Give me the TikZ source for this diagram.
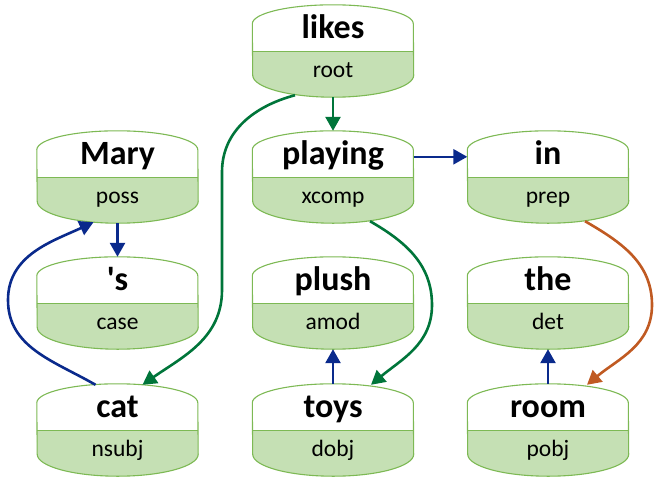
\documentclass[tikz,border=0pt]{standalone}
\usepackage{fontspec}
\newfontfamily\carl{Carlito}
\usetikzlibrary{arrows.meta,calc}
\definecolor{lgreen}{HTML}{C5E0B4}
\definecolor{bgreen}{HTML}{7DB954}
\definecolor{cblue}{HTML}{0A2A8C}
\definecolor{cgreen}{HTML}{00753A}
\definecolor{cbrown}{HTML}{C05A22}
\tikzset{
  box/.style={rectangle,minimum width=161pt,minimum height=92pt,inner sep=0pt},
  border/.style={draw=bgreen,line width=1.1pt},
  wordtxt/.style={anchor=base,inner sep=0pt,font=\carl\fontsize{34}{40}\selectfont\bfseries},
  labtxt/.style={anchor=base,inner sep=0pt,font=\carl\fontsize{23.5}{28}\selectfont},
  conn/.style={line width=2.6pt,-{Triangle[length=14pt,width=15pt]}},
}
\newcommand\wnode[5]{%
  \node[box] (#1) at (#2,-#3-46) {};
  \fill[white] ([yshift=-19pt]#1.north west) arc[start angle=180,end angle=0,x radius=80.5pt,y radius=19pt]
     -- ([yshift=-47pt]#1.north east) -- ([yshift=-47pt]#1.north west) -- cycle;
  \fill[lgreen] ([yshift=-47pt]#1.north west) -- ([yshift=-47pt]#1.north east)
     -- ([yshift=22pt]#1.south east) arc[start angle=0,end angle=-180,x radius=80.5pt,y radius=22pt] -- cycle;
  \draw[border] ([yshift=-19pt]#1.north west) arc[start angle=180,end angle=0,x radius=80.5pt,y radius=19pt]
     -- ([yshift=22pt]#1.south east) arc[start angle=0,end angle=-180,x radius=80.5pt,y radius=22pt] -- cycle;
  \draw[border] ([yshift=-47pt]#1.north west) -- ([yshift=-47pt]#1.north east);
  \node[wordtxt] (#1-w) at ([yshift=-34pt]#1.north) {#4};
  \node[labtxt] (#1-l) at ([yshift=-72.5pt]#1.north) {#5};
}
\begin{document}
\begin{tikzpicture}[x=1pt,y=1pt]
\useasboundingbox (0,0) rectangle (664,-483);
\wnode{likes}{333}{5}{likes}{root}
\wnode{mary}{117.5}{131}{Mary}{poss}
\wnode{playing}{333}{131}{playing}{xcomp}
\wnode{in}{548}{131}{in}{prep}
\wnode{s}{117.5}{257}{'s}{case}
\wnode{plush}{333}{257}{plush}{amod}
\wnode{the}{548}{257}{the}{det}
\wnode{cat}{117.5}{384}{cat}{nsubj}
\wnode{toys}{333}{384}{toys}{dobj}
\wnode{room}{548}{384}{room}{pobj}
% connectors
\coordinate (k1) at (222,-172);
\coordinate (k1b) at (222,-290);
\coordinate (k2) at (8,-300);
\coordinate (k3) at (432,-305);
\coordinate (k4) at (652,-305);
\draw[conn,cgreen] (likes.south) -- (playing.north);
\draw[conn,cgreen] ($(likes.south)+(-38,2)$) to[out=195,in=90] (k1) -- (k1b) to[out=-90,in=35] ($(cat.north)+(25,-1)$);
\draw[conn,cblue] (mary.south) -- (s.north);
\draw[conn,cblue] ($(cat.north)+(-22,-1)$) to[out=150,in=-90] (k2) to[out=90,in=205] ($(mary.south)+(-24,1)$);
\draw[conn,cblue] ([yshift=-26pt]playing.north east) -- ([yshift=-26pt]in.north west);
\draw[conn,cgreen] ($(playing.south)+(37,2)$) to[out=-30,in=90] (k3) to[out=-90,in=40] ($(toys.north)+(38,-1)$);
\draw[conn,cblue] (toys.north) -- (plush.south);
\draw[conn,cbrown] ($(in.south)+(37,2)$) to[out=-30,in=90] (k4) to[out=-90,in=40] ($(room.north)+(39,-1)$);
\draw[conn,cblue] (room.north) -- (the.south);
\end{tikzpicture}
\end{document}
